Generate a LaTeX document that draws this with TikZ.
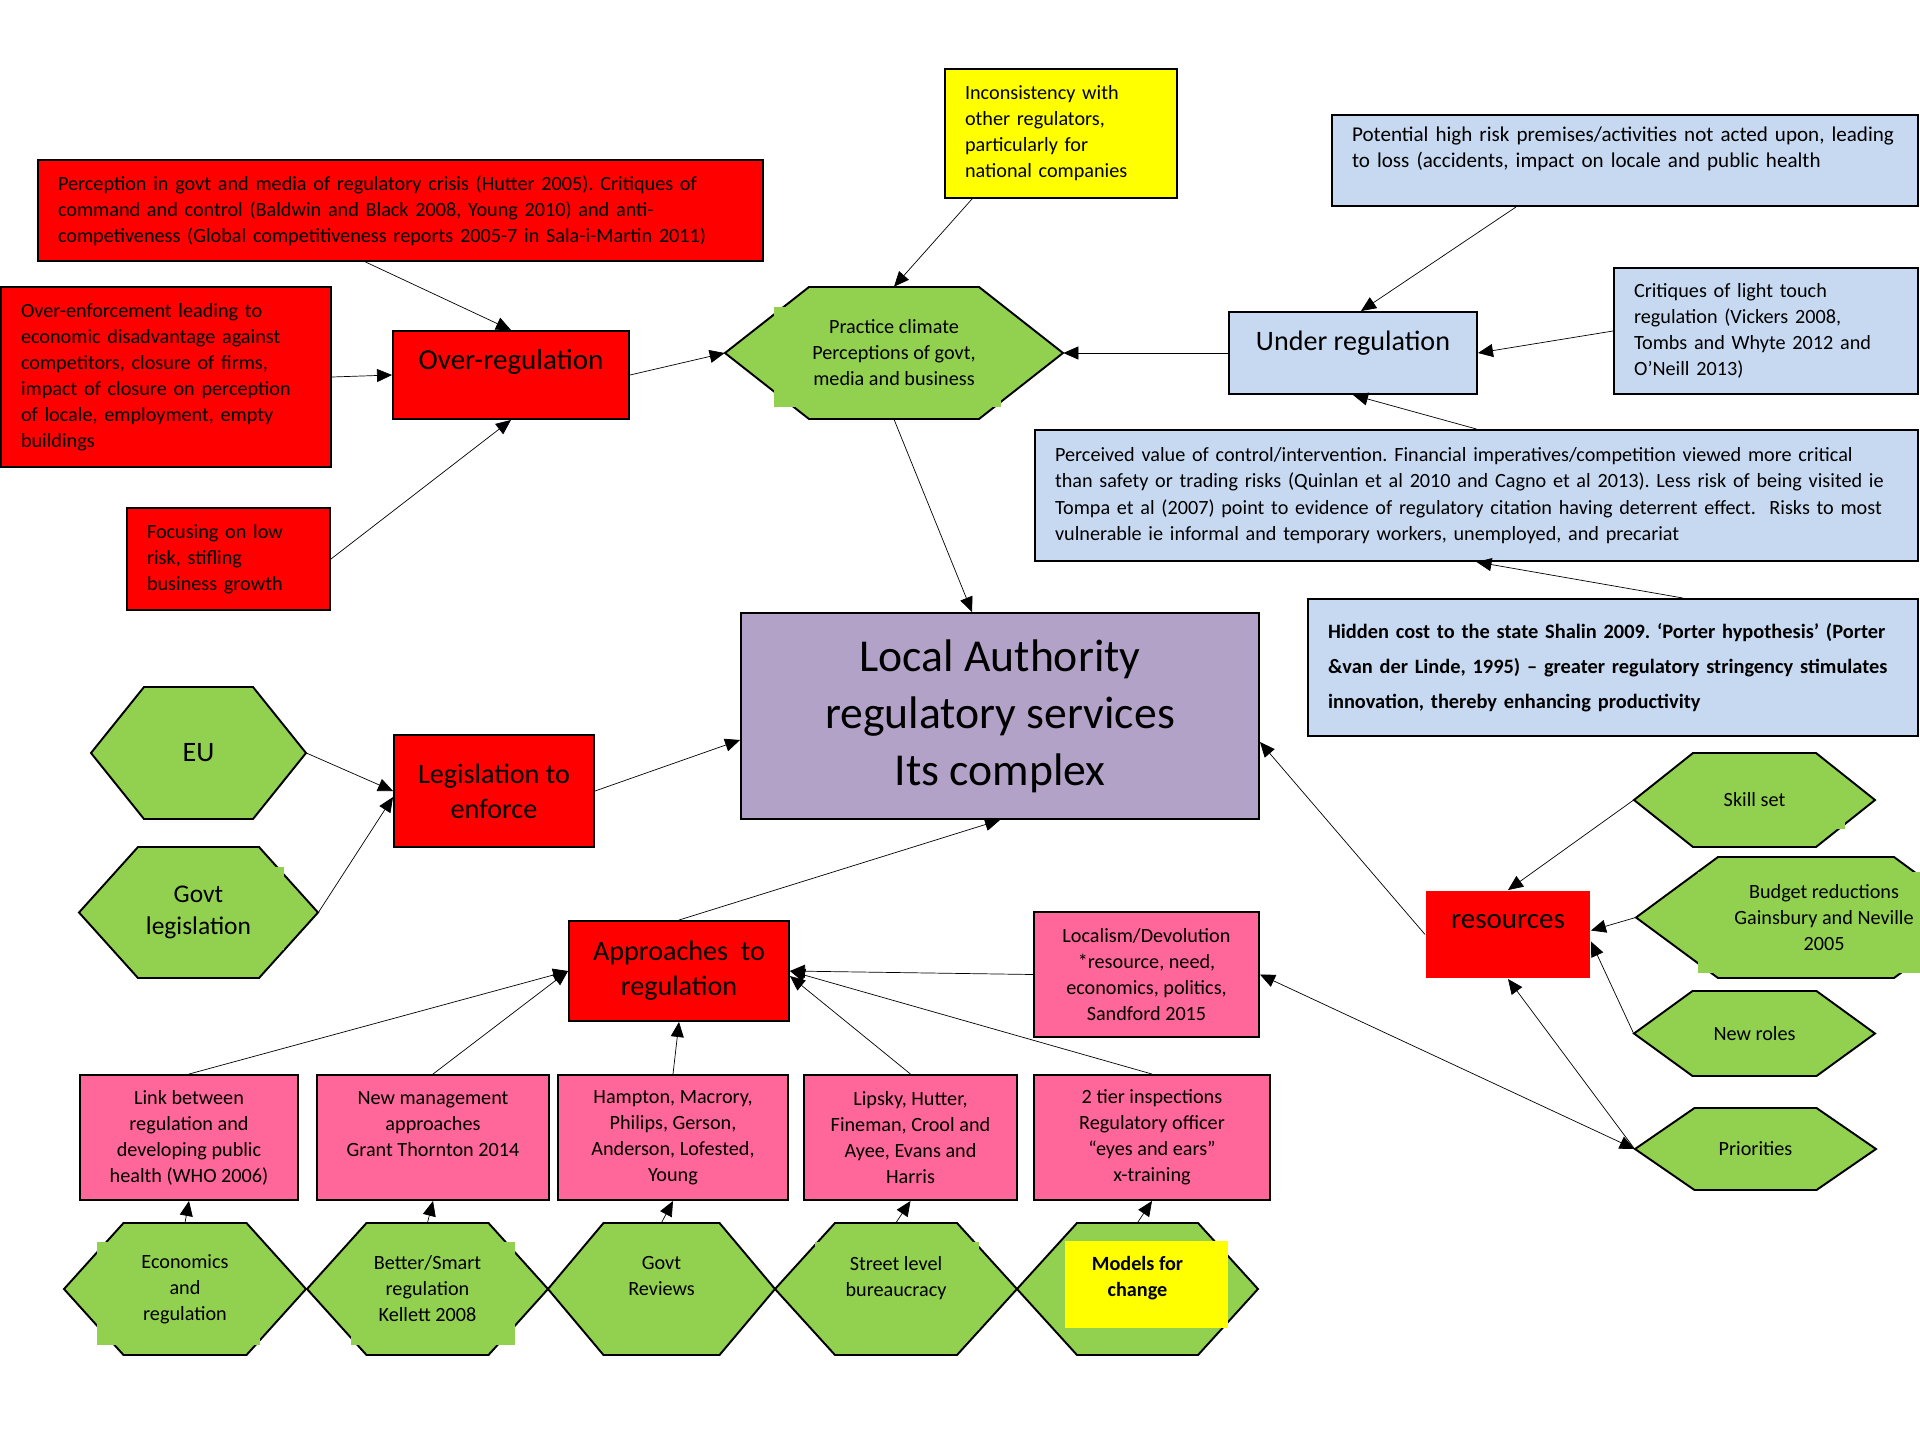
\documentclass[tikz,border=0pt]{standalone}
\usepackage{fontspec}
\setmainfont{Carlito}
\usetikzlibrary{arrows.meta}
\frenchspacing

\definecolor{regred}{HTML}{FF0000}
\definecolor{noteyellow}{HTML}{FFFF00}
\definecolor{hexgreen}{HTML}{92D050}
\definecolor{critblue}{HTML}{C6D9F1}
\definecolor{lapurple}{HTML}{B2A2C7}
\definecolor{refpink}{HTML}{FF6699}

\newcommand{\pxu}{0.02cm}
\pgfdeclarelayer{hexes}
\pgfdeclarelayer{patches}
\pgfsetlayers{hexes,patches,main}

\tikzset{
	box/.style={draw, line width=1.1pt, inner sep=0pt, align=center, font=\fontsize{11.5}{14.8}\selectfont},
	notebox/.style={box, align=left, inner xsep=0.4cm},
	headbox/.style={box, font=\fontsize{16.5}{19.8}\selectfont},
	hexline/.style={draw, line width=1.1pt, fill=hexgreen},
	hexa/.style={inner sep=0pt, align=center, font=\fontsize{11.5}{14.8}\selectfont}
}

% [node options], name, centre x, centre y, width, height, top width, text
\newcommand{\hexnode}[8][]{%
	\begin{pgfonlayer}{hexes}
		\draw[hexline] ({#3-#5/2},#4) -- ({#3-#7/2},{#4-#6/2}) -- ({#3+#7/2},{#4-#6/2})
			-- ({#3+#5/2},#4) -- ({#3+#7/2},{#4+#6/2}) -- ({#3-#7/2},{#4+#6/2}) -- cycle;
	\end{pgfonlayer}
	\node[hexa, minimum width=#5*\pxu, minimum height=#6*\pxu, #1] (#2) at (#3,#4) {#8};
}

\begin{document}
\begin{tikzpicture}[x=0.02cm, y=-0.02cm, line width=1.1pt, >={Triangle[length=0.3cm,width=0.26cm]}]
	\path[use as bounding box] (0,0) rectangle (1920,1440);
	
	% over-regulation
	\node[notebox, fill=regred, text width=13.7cm, minimum height=101*\pxu] (percep) at (400.5,210.5)
		{Perception in govt and media of regulatory crisis (Hutter 2005). Critiques of\\command and control (Baldwin and Black 2008, Young 2010) and anti-\\competiveness (Global competitiveness reports 2005-7 in Sala-i-Martin 2011)};
	\node[notebox, fill=regred, text width=5.8cm, minimum height=180*\pxu] (overenf) at (166,377)
		{Over-enforcement leading to\\economic disadvantage against\\competitors, closure of firms,\\impact of closure on perception\\of locale, employment, empty\\buildings};
	\node[notebox, fill=regred, text width=3.26cm, minimum height=102*\pxu] (focus) at (228.5,559)
		{Focusing on low\\risk, stifling\\business growth};
	\node[headbox, fill=regred, minimum width=236*\pxu, minimum height=88*\pxu, text height=0.3cm, text depth=0.54cm] (overreg) at (511,375) {Over-regulation};
	
	% practice climate
	\node[notebox, fill=noteyellow, text width=3.84cm, minimum height=129*\pxu] (incons) at (1061,133.5)
		{Inconsistency with\\other regulators,\\particularly for\\national companies};
	\hexnode{climate}{894}{353}{338}{132}{170}{Practice climate\\Perceptions of govt,\\media and business}
	
	% under regulation
	\node[notebox, fill=critblue, text width=10.92cm, minimum height=91*\pxu, font=\fontsize{12}{15.1}\selectfont] (potential) at (1625,160.5)
		{Potential high risk premises/activities not acted upon, leading\\to loss (accidents, impact on locale and public health\\\phantom{X}};
	\node[notebox, fill=critblue, text width=5.28cm, minimum height=126*\pxu] (critiques) at (1766,331)
		{Critiques of light touch\\regulation (Vickers 2008,\\Tombs and Whyte 2012 and\\O’Neill 2013)};
	\node[headbox, fill=critblue, font=\fontsize{16}{19}\selectfont, minimum width=248*\pxu, minimum height=82*\pxu, text height=0.3cm, text depth=0.42cm] (underreg) at (1353,353) {Under regulation};
	\node[notebox, fill=critblue, text width=16.86cm, minimum height=131*\pxu, font=\fontsize{11.5}{15.1}\selectfont] (perceived) at (1476.5,495.5)
		{Perceived value of control/intervention. Financial imperatives/competition viewed more critical\\than safety or trading risks (Quinlan et al 2010 and Cagno et al 2013). Less risk of being visited ie\\Tompa et al (2007) point to evidence of regulatory citation having deterrent effect.\ \ Risks to most\\vulnerable ie informal and temporary workers, unemployed, and precariat};
	\node[notebox, fill=critblue, text width=11.4cm, minimum height=137*\pxu, font=\bfseries\fontsize{11.6}{19.9}\selectfont] (hidden) at (1613,667.5)
		{Hidden cost to the state Shalin 2009. ‘Porter hypothesis’ (Porter\\\&van der Linde, 1995) – greater regulatory stringency stimulates\\innovation, thereby enhancing productivity};
	
	% centre
	\node[box, fill=lapurple, minimum width=518*\pxu, minimum height=206*\pxu, font=\fontsize{26}{32.4}\selectfont] (la) at (1000,716)
		{Local Authority\\regulatory services\\Its complex};
	
	% legislation
	\hexnode[font=\fontsize{16}{19}\selectfont]{eu}{198.5}{753}{215}{132}{109}{EU}
	\hexnode[font=\fontsize{14.5}{18.5}\selectfont]{govleg}{198.5}{912.5}{239}{131}{121}{Govt\\legislation}
	\node[headbox, fill=regred, font=\fontsize{16}{19.8}\selectfont, minimum width=200*\pxu, minimum height=112*\pxu] (legislation) at (494,791) {Legislation to\\enforce};
	
	% resources
	\node[headbox, draw=none, fill=regred, minimum width=164*\pxu, minimum height=87*\pxu, text height=0.3cm, text depth=0.56cm] (resources) at (1508,934.5) {resources};
	\hexnode{skill}{1754.5}{800}{241}{94}{123}{Skill set}
	\hexnode[xshift=0.36cm]{budget}{1806}{917.5}{340}{121}{176}{Budget reductions\\Gainsbury and Neville\\2005}
	\hexnode{newroles}{1754.5}{1033.5}{241}{85}{124}{New roles}
	\hexnode{priorities}{1755.5}{1149}{241}{82}{122}{Priorities}
	
	% approaches
	\node[headbox, fill=regred, font=\fontsize{16}{19.8}\selectfont, minimum width=220*\pxu, minimum height=100*\pxu] (approaches) at (679,971) {Approaches\ \ to\\regulation};
	\node[box, fill=refpink, minimum width=225*\pxu, minimum height=125*\pxu] (localism) at (1146.5,974.5)
		{Localism/Devolution\\*resource, need,\\economics, politics,\\Sandford 2015};
	\node[box, fill=refpink, minimum width=218*\pxu, minimum height=125*\pxu] (link) at (189,1137.5)
		{Link between\\regulation and\\developing public\\health (WHO 2006)};
	\node[box, fill=refpink, minimum width=232*\pxu, minimum height=125*\pxu] (newmgmt) at (433,1137.5)
		{New management\\approaches\\Grant Thornton 2014\\\phantom{X}};
	\node[box, fill=refpink, minimum width=230*\pxu, minimum height=125*\pxu] (hampton) at (673,1137.5)
		{Hampton, Macrory,\\Philips, Gerson,\\Anderson, Lofested,\\Young};
	\node[box, fill=refpink, minimum width=213*\pxu, minimum height=125*\pxu] (lipsky) at (910.5,1137.5)
		{Lipsky, Hutter,\\Fineman, Crool and\\Ayee, Evans and\\Harris};
	\node[box, fill=refpink, minimum width=236*\pxu, minimum height=125*\pxu] (tier) at (1152,1137.5)
		{2 tier inspections\\Regulatory officer\\“eyes and ears”\\x-training};
	
	% bottom row
	\hexnode{econ}{185}{1289}{242}{132}{123}{Economics\\and\\regulation}
	\hexnode{better}{427.5}{1289}{241}{132}{122}{Better/Smart\\regulation\\Kellett 2008}
	\hexnode{govrev}{661.5}{1289}{227}{132}{116}{Govt\\Reviews\\\phantom{X}}
	\hexnode{street}{896}{1289}{242}{132}{122}{Street level\\bureaucracy\\\phantom{X}}
	\hexnode[font=\bfseries\fontsize{11.5}{14.8}\selectfont]{models}{1137.5}{1289}{241}{132}{121}{Models for\\change\\\phantom{X}}
	
	% text box fills poking out of the hexagons
	\begin{pgfonlayer}{patches}
		\fill[hexgreen] (774,307) rectangle (1001,407);
		\fill[hexgreen] (130,867) rectangle (284,950);
		\fill[hexgreen] (1700,805) rectangle (1845,829);
		\fill[hexgreen] (1698,872) rectangle (1925,973);
		\fill[hexgreen] (97,1242) rectangle (260,1345);
		\fill[hexgreen] (351,1242) rectangle (515,1345);
		\fill[hexgreen] (815,1242) rectangle (979,1330);
		\fill[noteyellow] (1065,1241) rectangle (1228,1328);
	\end{pgfonlayer}
	
	% connectors
	\draw[->] ([xshift=-0.7cm]percep.south) -- (overreg.north);
	\draw[->] (overenf.east) -- (overreg.west);
	\draw[->] (focus.east) -- (overreg.south);
	\draw[->] (overreg.east) -- (climate.west);
	\draw[->] ([xshift=-1.78cm]incons.south) -- (climate.north);
	\draw[->] (underreg.west) -- (climate.east);
	\draw[->] ([xshift=-2.18cm]potential.south) -- ([xshift=0.16cm]underreg.north);
	\draw[->] (critiques.west) -- (underreg.east);
	\draw[->] (perceived.north) -- (underreg.south);
	\draw[->] ([xshift=1.4cm]hidden.north) -- (perceived.south);
	\draw[->] (climate.south) -- ([xshift=-0.56cm]la.north);
	
	\draw[->] (eu.east) -- (legislation.west);
	\draw[->] (govleg.east) -- ([yshift=-0.12cm]legislation.west);
	\draw[->] (legislation.east) -- ([yshift=-0.48cm]la.west);
	\draw[->] (approaches.north) -- (la.south);
	\draw[->] (resources.west) -- ([yshift=-0.52cm]la.east);
	
	\draw[->] (skill.west) -- (resources.north);
	\draw[->] ([xshift=-0.36cm]budget.west) -- ([yshift=0.08cm]resources.east);
	\draw[->] (newroles.west) -- ([yshift=-0.14cm]resources.east);
	\draw[->] (priorities.west) -- (resources.south);
	\draw[<->] (localism.east) -- (priorities.west);
	
	\draw[->] (localism.west) -- (approaches.east);
	\draw[->] (tier.north) -- (approaches.east);
	\draw[->] (lipsky.north) -- ([yshift=-0.1cm]approaches.east);
	\draw[->] (hampton.north) -- (approaches.south);
	\draw[->] (newmgmt.north) -- (approaches.west);
	\draw[->] (link.north) -- (approaches.west);
	
	\foreach \a/\b in {econ/link, better/newmgmt, govrev/hampton, street/lipsky, models/tier}{
		\draw[->] (\a.north) -- (\b.south);
	}
\end{tikzpicture}
\end{document}
